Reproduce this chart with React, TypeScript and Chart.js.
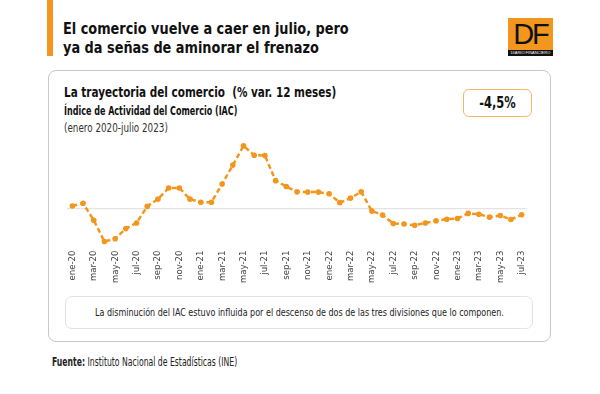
import React, { useEffect, useRef } from "react";
import { Chart, registerables } from "chart.js";

Chart.register(...registerables);

const months: string[] = [
  "ene-20","feb-20","mar-20","abr-20","may-20","jun-20","jul-20","ago-20","sep-20","oct-20","nov-20","dic-20",
  "ene-21","feb-21","mar-21","abr-21","may-21","jun-21","jul-21","ago-21","sep-21","oct-21","nov-21","dic-21",
  "ene-22","feb-22","mar-22","abr-22","may-22","jun-22","jul-22","ago-22","sep-22","oct-22","nov-22","dic-22",
  "ene-23","feb-23","mar-23","abr-23","may-23","jun-23","jul-23",
];

const iacVar: number[] = [
  2.4, 4.5, -8.7, -25.3, -23.1, -15.2, -10.8, 2.1, 7.7, 16.4, 16.4, 7.7,
  5.3, 5.3, 19.5, 34.2, 49.2, 41.9, 41.6, 22.1, 17.6, 13.4, 13.2, 13.2,
  11.9, 5.0, 8.5, 13.4, -1.6, -4.7, -11.3, -11.6, -12.6, -10.8, -9.2, -7.9,
  -7.3, -3.4, -4.0, -6.3, -5.0, -8.1, -4.5,
];

const ORANGE = "#F2961E";
const FONT = '"DejaVu Sans Condensed", "Liberation Sans Narrow", "Noto Sans", sans-serif';

function LineChart() {
  const ref = useRef<HTMLCanvasElement | null>(null);
  useEffect(() => {
    if (!ref.current) return;
    const chart = new Chart(ref.current, {
      type: "line",
      data: {
        labels: months,
        datasets: [
          {
            data: iacVar,
            borderColor: ORANGE,
            backgroundColor: ORANGE,
            borderWidth: 2.5,
            borderDash: [5, 3],
            pointRadius: 2.8,
            pointBackgroundColor: ORANGE,
            pointBorderWidth: 0,
            tension: 0,
          },
        ],
      },
      options: {
        animation: false,
        responsive: false,
        maintainAspectRatio: false,
        layout: { padding: { left: 7, right: 13, top: 8.4, bottom: 0 } },
        plugins: { legend: { display: false }, tooltip: { enabled: false } },
        scales: {
          x: {
            offset: true,
            grid: { display: false, drawTicks: false },
            border: { display: false },
            ticks: {
              autoSkip: false,
              minRotation: 90,
              maxRotation: 90,
              padding: 3,
              color: "#444",
              font: { family: FONT, size: 9.5 },
              callback: (_v: any, i: number) => (i % 2 === 0 ? months[i] : ""),
            },
          },
          y: {
            min: -30,
            max: 55,
            grid: {
              drawTicks: false,
              color: (ctx: any) => (ctx.tick && ctx.tick.value === 0 ? "#e3e3e3" : "rgba(0,0,0,0)"),
              lineWidth: 1.2,
            },
            border: { display: false },
            ticks: { display: false, stepSize: 5 },
          },
        },
      },
    });
    return () => chart.destroy();
  }, []);
  return (
    <canvas
      ref={ref}
      width={480}
      height={156}
      style={{ position: "absolute", left: 60, top: 130, width: 480, height: 156 }}
    />
  );
}

function Txt(props: {
  left: number;
  top: number;
  size: number;
  sx: number;
  bold?: boolean;
  color?: string;
  children: React.ReactNode;
}) {
  return (
    <div
      style={{
        position: "absolute",
        left: props.left,
        top: props.top,
        fontSize: props.size,
        fontWeight: props.bold ? 700 : 400,
        color: props.color || "#111",
        whiteSpace: "pre",
        transform: `scaleX(${props.sx})`,
        transformOrigin: "left top",
      }}
    >
      {props.children}
    </div>
  );
}

export default function App() {
  return (
    <div
      style={{
        position: "absolute",
        left: 0,
        top: 0,
        width: 600,
        height: 394,
        background: "#fff",
        fontFamily: FONT,
        color: "#111",
        overflow: "hidden",
      }}
    >
      <div style={{ position: "absolute", left: 47, top: 0, width: 6, height: 56, background: ORANGE }} />
      <div
        style={{
          position: "absolute",
          left: 63,
          top: 19,
          fontSize: 16,
          fontWeight: 700,
          lineHeight: "19px",
          color: "#111",
          whiteSpace: "pre",
          transform: "scaleX(0.895)",
          transformOrigin: "left top",
        }}
      >
        {"El comercio vuelve a caer en julio, pero\nya da señas de aminorar el frenazo"}
      </div>
      <div style={{ position: "absolute", left: 508, top: 18, width: 45, height: 38 }}>
        <div
          style={{
            position: "absolute",
            left: 0,
            top: 0,
            width: 45,
            height: 32,
            background: ORANGE,
            fontFamily: '"Liberation Sans", Arial, sans-serif',
            fontSize: 29,
            lineHeight: "32px",
            textAlign: "center",
            color: "#111",
            letterSpacing: -2,
          }}
        >
          DF
        </div>
        <div
          style={{
            position: "absolute",
            left: 0,
            top: 32,
            width: 45,
            height: 6,
            background: "#111",
            color: "#fff",
            fontSize: 4,
            lineHeight: "6px",
            textAlign: "center",
            fontFamily: '"Liberation Sans", Arial, sans-serif',
          }}
        >
          DIARIO FINANCIERO
        </div>
      </div>

      <div
        style={{
          position: "absolute",
          left: 48,
          top: 70,
          width: 503,
          height: 272,
          border: "1px solid #c8c8c8",
          borderRadius: 8,
          boxSizing: "border-box",
        }}
      />
      <Txt left={64} top={84} size={14.5} sx={0.8} bold>
        {"La trayectoria del comercio  (% var. 12 meses)"}
      </Txt>
      <Txt left={64} top={104} size={11.5} sx={0.775} bold>
        Índice de Actividad del Comercio (IAC)
      </Txt>
      <Txt left={64} top={121} size={11.5} sx={0.85} color="#333">
        (enero 2020-julio 2023)
      </Txt>
      <div
        style={{
          position: "absolute",
          left: 463,
          top: 89,
          width: 69,
          height: 28,
          border: "1.5px solid #F5B766",
          borderRadius: 6,
          boxSizing: "border-box",
          fontSize: 15,
          fontWeight: 700,
          display: "flex",
          alignItems: "center",
          justifyContent: "center",
        }}
      >
        <span style={{ display: "inline-block", transform: "scaleX(0.85)" }}>-4,5%</span>
      </div>

      <LineChart />

      <div
        style={{
          position: "absolute",
          left: 65,
          top: 296,
          width: 468,
          height: 33,
          border: "1px solid #e2e2e2",
          borderRadius: 7,
          boxSizing: "border-box",
          fontSize: 11,
          color: "#222",
          display: "flex",
          alignItems: "center",
          justifyContent: "center",
          overflow: "visible",
        }}
      >
        <span style={{ display: "inline-block", whiteSpace: "nowrap", transform: "scaleX(0.81)", flexShrink: 0 }}>
          La disminución del IAC estuvo influida por el descenso de dos de las tres divisiones que lo componen.
        </span>
      </div>

      <Txt left={52} top={355} size={12} sx={0.715} color="#222">
        <b>Fuente:</b> Instituto Nacional de Estadísticas (INE)
      </Txt>
    </div>
  );
}
